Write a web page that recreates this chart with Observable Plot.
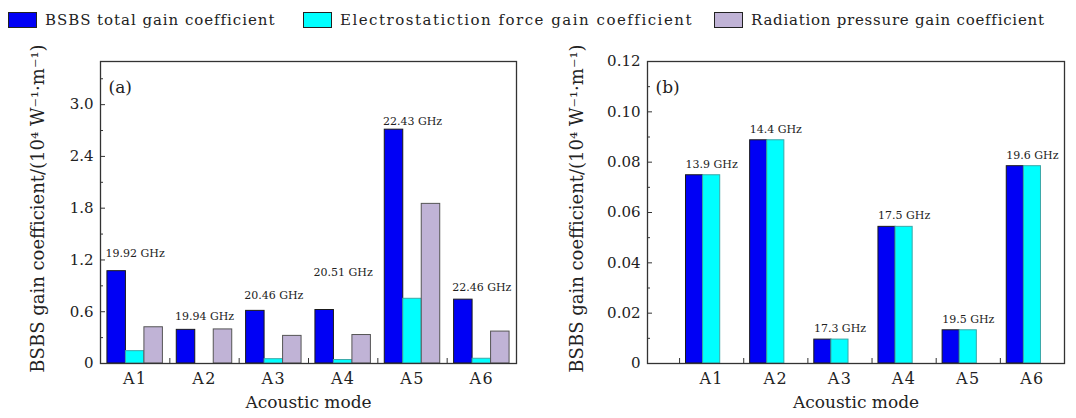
<!DOCTYPE html>
<html><head><meta charset="utf-8">
<script src="https://cdn.jsdelivr.net/npm/d3@7"></script>
<script src="https://cdn.jsdelivr.net/npm/@observablehq/plot@0.6"></script>
<style>
body{margin:0;background:#fff;font-family:"DejaVu Serif",serif;color:#222;}
#wrap{position:relative;width:1076px;height:418px;overflow:hidden;background:#fff;}
#legend{position:absolute;left:0;top:0;width:1076px;height:40px;z-index:2;}
.sw{position:absolute;top:12px;width:27px;height:14px;border:1px solid #222;}
.lt{position:absolute;top:10px;line-height:20px;white-space:nowrap;font-size:15px;}
#a{position:absolute;left:0;top:40px}
#b{position:absolute;left:540px;top:40px}
</style>
</head><body>
<div id="wrap">
  <div id="legend"></div>
  <div id="a"></div>
  <div id="b"></div>
</div>
<script>
// ---- data ----
const categories = ["A1", "A2", "A3", "A4", "A5", "A6"];
const seriesNames = ["BSBS total gain coefficient", "Electrostatiction force gain coefficient", "Radiation pressure gain coefficient"];
const seriesColors = ["#0000f5", "#00ffff", "#c0b3d6"];
const seriesStrokes = ["#1a1a1a", "#3aa8a8", "#555555"];

// panel (a)
const totalA = [1.07, 0.39, 0.61, 0.62, 2.71, 0.74];
const electroA = [0.143, 0, 0.05, 0.04, 0.75, 0.055];
const radiationA = [0.42, 0.395, 0.32, 0.33, 1.85, 0.37];
const freqA = ["19.92 GHz", "19.94 GHz", "20.46 GHz", "20.51 GHz", "22.43 GHz", "22.46 GHz"];
const freqAtA = [1.27, 0.545, 0.79, 1.055, 2.80, 0.88];
const yTicksA = [0, 0.6, 1.2, 1.8, 2.4, 3.0];
const yTickLabelsA = ["0", "0.6", "1.2", "1.8", "2.4", "3.0"];
const yMinorA = [0.3, 0.9, 1.5, 2.1, 2.7, 3.3];

// panel (b)
const totalB = [0.0748, 0.0887, 0.0095, 0.0543, 0.0132, 0.0784];
const electroB = [0.0748, 0.0887, 0.0095, 0.0543, 0.0132, 0.0784];
const radiationB = [0, 0, 0, 0, 0, 0];
const freqB = ["13.9 GHz", "14.4 GHz", "17.3 GHz", "17.5 GHz", "19.5 GHz", "19.6 GHz"];
const yTicksB = [0, 0.02, 0.04, 0.06, 0.08, 0.10, 0.12];
const yTickLabelsB = ["0", "0.02", "0.04", "0.06", "0.08", "0.10", "0.12"];
const yMinorB = [0.01, 0.03, 0.05, 0.07, 0.09, 0.11];

const yTitle = "BSBS gain coefficient/(10\u2074 W\u207B\u00B9\u00B7m\u207B\u00B9)";
const xTitle = "Acoustic mode";

// ---- legend ----
const legendLeft = [8, 303, 714];
const legendSpacing = [0.95, 1.5, 0.75];
const legend = document.getElementById("legend");
seriesNames.forEach((name, k) => {
  const sw = document.createElement("div");
  sw.className = "sw";
  sw.style.left = legendLeft[k] + "px";
  sw.style.background = seriesColors[k];
  const tx = document.createElement("div");
  tx.className = "lt";
  tx.style.left = (legendLeft[k] + 37) + "px";
  tx.style.letterSpacing = legendSpacing[k] + "px";
  tx.textContent = name;
  legend.appendChild(sw); legend.appendChild(tx);
});

// ---- chart builder ----
function chart(o) {
  const height = 378, marginTop = 21, marginBottom = 55;
  const innerW = o.width - o.marginLeft - o.marginRight;
  const innerH = height - marginTop - marginBottom;
  const bw = 0.8 / 3;
  const marks = [];
  o.values.forEach((vals, k) => {
    const rows = categories.map((c, i) => ({c, i, v: vals[i]})).filter(d => d.v > 0);
    marks.push(Plot.rect(rows, {
      x1: d => d.i + 1 - 0.4 + k * bw,
      x2: d => d.i + 1 - 0.4 + (k + 1) * bw,
      y1: 0, y2: "v",
      fill: seriesColors[k], stroke: seriesStrokes[k], strokeWidth: 1
    }));
  });
  const lab = categories.map((c, i) => ({i, t: o.freq[i], at: o.freqAt[i]}));
  marks.push(Plot.text(lab, {x: d => d.i + 1, y: "at", text: "t", dy: o.freqDy, fontSize: 11, fill: "#222", ariaLabel: "freq"}));
  marks.push(Plot.frame({stroke: "#333", strokeWidth: 1.3}));
  marks.push(Plot.tickY(o.yTicks, {y: d => d, insetRight: innerW - 5, stroke: "#333"}));
  marks.push(Plot.tickY(o.yMinor, {y: d => d, insetRight: innerW - 3, stroke: "#333"}));
  marks.push(Plot.tickX(o.xBoundaries, {x: d => d, insetTop: innerH - 5, stroke: "#333"}));
  marks.push(Plot.axisY(o.yTicks, {tickSize: 0, tickPadding: 7, fontSize: 15, tickFormat: d => o.yTickLabels[o.yTicks.indexOf(d)]}));
  marks.push(Plot.axisX(d3.range(1, 7), {tickSize: 0, tickPadding: 9, fontSize: 16, tickFormat: d => categories[d - 1]}));
  marks.push(Plot.text([xTitle], {frameAnchor: "bottom", dy: 44, fontSize: 17, fill: "#222", ariaLabel: "xtitle"}));
  marks.push(Plot.text([yTitle], {frameAnchor: "left", textAnchor: "middle", rotate: -90, dx: o.yTitleX - o.marginLeft, dy: -4, fontSize: 18, fill: "#222", ariaLabel: "ytitle"}));
  marks.push(Plot.text([o.tag], {frameAnchor: "top-left", dx: 8, dy: 19, textAnchor: "start", fontSize: 17, fill: "#222", ariaLabel: "tag"}));
  const svg = Plot.plot({
    width: o.width, height, marginTop, marginBottom,
    marginLeft: o.marginLeft, marginRight: o.marginRight,
    style: {fontFamily: "DejaVu Serif", color: "#222", background: "#fff", overflow: "visible"},
    x: {type: "linear", domain: o.xDomain, label: null},
    y: {domain: o.yDomain, label: null},
    marks
  });
  const s = d3.select(svg);
  s.selectAll('[aria-label="x-axis tick label"] text').style("letter-spacing", "1.4px");
  s.selectAll('[aria-label="xtitle"] text').style("letter-spacing", "0.8px");
  s.selectAll('[aria-label="freq"] text').style("letter-spacing", "0.45px");
  return svg;
}

document.getElementById("a").appendChild(chart({
  values: [totalA, electroA, radiationA],
  freq: freqA, freqAt: freqAtA, freqDy: 0,
  width: 540, marginLeft: 100, marginRight: 24,
  xDomain: [0.5, 6.5], yDomain: [0, 3.5],
  yTicks: yTicksA, yTickLabels: yTickLabelsA, yMinor: yMinorA,
  xBoundaries: [1.5, 2.5, 3.5, 4.5, 5.5],
  yTitleX: 38, tag: "(a)"
}));

document.getElementById("b").appendChild(chart({
  values: [totalB, electroB, radiationB],
  freq: freqB, freqAt: totalB, freqDy: -11,
  width: 536, marginLeft: 107, marginRight: 12,
  xDomain: [0, 6.5], yDomain: [0, 0.12],
  yTicks: yTicksB, yTickLabels: yTickLabelsB, yMinor: yMinorB,
  xBoundaries: [0.5, 1.5, 2.5, 3.5, 4.5, 5.5],
  yTitleX: 37, tag: "(b)"
}));
</script>
</body></html>
